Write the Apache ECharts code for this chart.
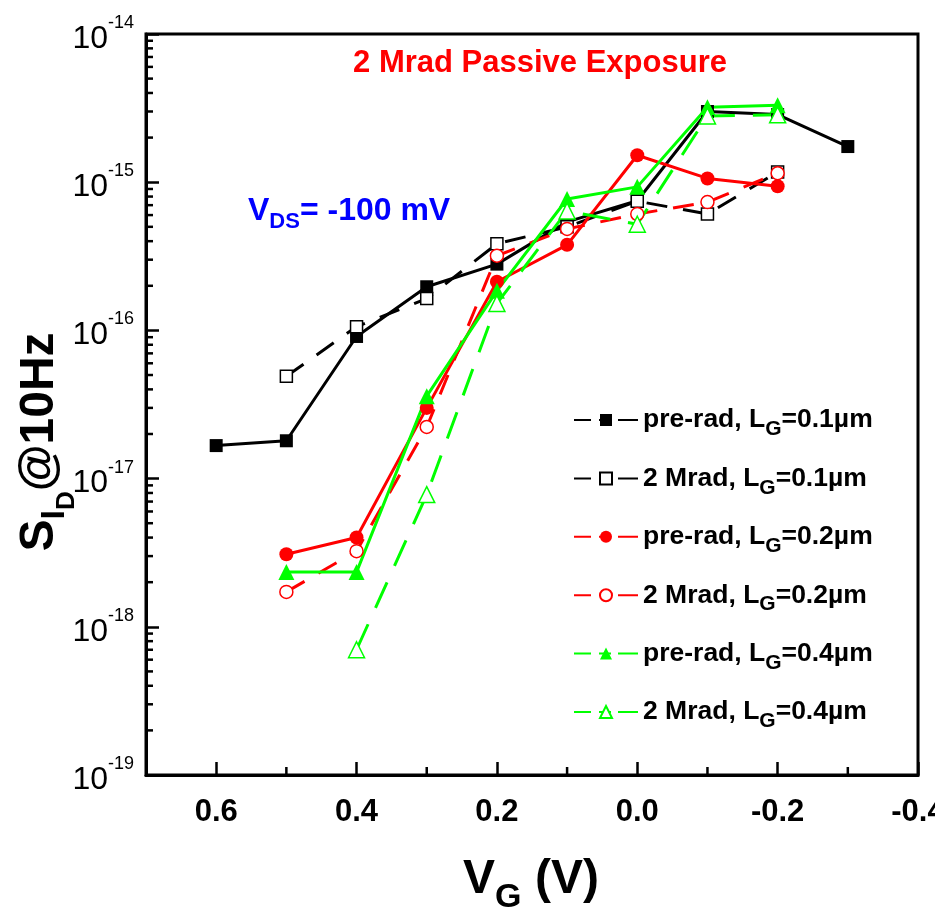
<!DOCTYPE html>
<html><head><meta charset="utf-8">
<script src="https://cdn.jsdelivr.net/npm/echarts@6/dist/echarts.min.js"></script>
<style>html,body{margin:0;padding:0;background:#fff}#c{width:935px;height:912px}</style>
</head><body><div id="c"></div>
<script>
// ---- data ----
const xPreRad01 = [0.6, 0.5, 0.4, 0.3, 0.2, 0.1, 0.0, -0.1, -0.2, -0.3];
const yPreRad01 = [1.67e-17, 1.8e-17, 9.1e-17, 1.97e-16, 2.8e-16, 5.4e-16, 7.5e-16, 3.0e-15, 2.86e-15, 1.74e-15];
const x2Mrad01 = [0.5, 0.4, 0.3, 0.2, 0.1, 0.0, -0.1, -0.2];
const y2Mrad01 = [4.9e-17, 1.06e-16, 1.64e-16, 3.84e-16, 5.0e-16, 7.45e-16, 6.1e-16, 1.17e-15];
const xPreRad02 = [0.5, 0.4, 0.3, 0.2, 0.1, 0.0, -0.1, -0.2];
const yPreRad02 = [3.09e-18, 4.0e-18, 3.0e-17, 2.13e-16, 3.78e-16, 1.52e-15, 1.06e-15, 9.4e-16];
const x2Mrad02 = [0.5, 0.4, 0.3, 0.2, 0.1, 0.0, -0.1, -0.2];
const y2Mrad02 = [1.72e-18, 3.24e-18, 2.23e-17, 3.19e-16, 4.84e-16, 6.1e-16, 7.34e-16, 1.15e-15];
const xPreRad04 = [0.5, 0.4, 0.3, 0.2, 0.1, 0.0, -0.1, -0.2];
const yPreRad04 = [2.34e-18, 2.34e-18, 3.6e-17, 1.85e-16, 7.7e-16, 9.3e-16, 3.2e-15, 3.3e-15];
const x2Mrad04 = [0.4, 0.3, 0.2, 0.1, 0.0, -0.1, -0.2];
const y2Mrad04 = [7.0e-19, 7.8e-18, 1.52e-16, 6.4e-16, 5.2e-16, 2.8e-15, 2.85e-15];

const seriesNames = [
  'pre-rad, L_G=0.1\u00b5m', '2 Mrad, L_G=0.1\u00b5m',
  'pre-rad, L_G=0.2\u00b5m', '2 Mrad, L_G=0.2\u00b5m',
  'pre-rad, L_G=0.4\u00b5m', '2 Mrad, L_G=0.4\u00b5m'
];
const xMinorTicks = [0.5, 0.3, 0.1, -0.1, -0.3];
const yMinorMantissas = [2, 3, 4, 5, 6, 7, 8, 9];
const yDecades = [-19, -18, -17, -16, -15];

const FONT = '"Liberation Sans", Arial, sans-serif';

function mk(name, xs, ys, color, symbol, filled, dash, size) {
  return {
    type: 'line', name: name,
    data: xs.map((x, i) => [x, ys[i]]),
    symbol: symbol, symbolSize: size, showSymbol: true,
    lineStyle: { color: color, width: 3, type: dash || 'solid' },
    itemStyle: filled ? { color: color, borderColor: color, borderWidth: 0 }
                      : { color: '#ffffff', borderColor: color, borderWidth: 1.5 },
    emphasis: { disabled: true },
    animation: false, z: 3
  };
}

const minorData = [];
yDecades.forEach(d => yMinorMantissas.forEach(m => minorData.push([0.7, m * Math.pow(10, d), 0])));
xMinorTicks.forEach(v => minorData.push([v, 1e-19, 1]));

const chart = echarts.init(document.getElementById('c'), null, { renderer: 'canvas' });
chart.setOption({
  backgroundColor: '#ffffff',
  animation: false,
  grid: { left: 146, right: 17, top: 34, bottom: 137, show: true, borderColor: '#000', borderWidth: 3,
          containLabel: false, outerBoundsMode: 'none' },
  xAxis: {
    type: 'value', min: -0.4, max: 0.7, interval: 0.2, inverse: true,
    axisLine: { onZero: false, lineStyle: { color: '#000', width: 3 } },
    axisTick: { inside: true, length: 13, lineStyle: { color: '#000', width: 2.5 } },
    splitLine: { show: false },
    axisLabel: {
      margin: 22, color: '#000', fontFamily: FONT, fontWeight: 'bold', fontSize: 31,
      formatter: v => (Math.abs(v - 0.7) < 1e-9 ? '' : (Math.abs(v) < 1e-9 ? '0.0' : v.toFixed(1)))
    }
  },
  yAxis: {
    type: 'log', logBase: 10, min: 1e-19, max: 1e-14,
    axisLine: { onZero: false, lineStyle: { color: '#000', width: 3 } },
    axisTick: { inside: true, length: 13, lineStyle: { color: '#000', width: 2.5 } },
    splitLine: { show: false },
    axisLabel: {
      margin: 12, color: '#000', padding: [10, 0, 0, 0],
      formatter: v => '{a|10}{b|' + Math.round(Math.log10(v)) + '}',
      rich: {
        a: { fontFamily: FONT, fontSize: 32, lineHeight: 50, color: '#000' },
        b: { fontFamily: FONT, fontSize: 18, lineHeight: 14, verticalAlign: 'top', color: '#000' }
      }
    }
  },
  legend: {
    data: seriesNames,
    orient: 'vertical', left: 573, top: 400, itemGap: 18.4, padding: 0,
    itemWidth: 64, itemHeight: 15,
    lineStyle: { type: [17, 8, 12, 7, 20, 100] },
    formatter: n => n.replace('L_G', 'L{g|G}'),
    textStyle: {
      fontFamily: FONT, fontWeight: 'bold', fontSize: 26.5, color: '#000', lineHeight: 40,
      rich: { g: { fontFamily: FONT, fontWeight: 'bold', fontSize: 21, lineHeight: 16, verticalAlign: 'bottom', color: '#000' } }
    },
    selectedMode: false
  },
  graphic: [
    { type: 'text', x: 540, y: 63, style: { text: '2 Mrad Passive Exposure', font: 'bold 31px ' + FONT, fill: '#ff0000', align: 'center', verticalAlign: 'middle', textAlign: 'center', textVerticalAlign: 'middle' } },
    { type: 'text', x: 248, y: 211, style: {
        text: '{v|V}{s|DS}{v|= -100 mV}', align: 'left', verticalAlign: 'middle', textAlign: 'left', textVerticalAlign: 'middle',
        rich: { v: { font: 'bold 32px ' + FONT, fill: '#0000ff', lineHeight: 44 }, s: { font: 'bold 22px ' + FONT, fill: '#0000ff', lineHeight: 18, verticalAlign: 'bottom' } } } },
    { type: 'text', x: 531, y: 880, style: {
        text: '{v|V}{s|G}{v| (V)}', align: 'center', verticalAlign: 'middle', textAlign: 'center', textVerticalAlign: 'middle',
        rich: { v: { font: 'bold 48px ' + FONT, fill: '#000', lineHeight: 70 }, s: { font: 'bold 34px ' + FONT, fill: '#000', lineHeight: 26, verticalAlign: 'bottom' } } } },
    { type: 'text', x: 40, y: 442, rotation: Math.PI / 2, style: {
        text: '{s|S}{i|I}{d|D}{s|@10Hz}', align: 'center', verticalAlign: 'middle', textAlign: 'center', textVerticalAlign: 'middle',
        rich: {
          s: { font: 'bold 48px ' + FONT, fill: '#000', lineHeight: 80 },
          i: { font: 'bold 34px ' + FONT, fill: '#000', lineHeight: 48, verticalAlign: 'bottom', padding: [0, 0, 8, 0] },
          d: { font: 'bold 26px ' + FONT, fill: '#000', lineHeight: 24, verticalAlign: 'bottom' }
        } } }
  ],
  series: [
    {
      type: 'custom', name: 'minorTicks', silent: true, z: 5,
      data: minorData, encode: { x: 0, y: 1 },
      renderItem: (params, api) => {
        const p = api.coord([api.value(0), api.value(1)]);
        const k = api.value(2);
        const shape = k === 0 ? { x1: p[0], y1: p[1], x2: p[0] + 7, y2: p[1] } : { x1: p[0], y1: p[1], x2: p[0], y2: p[1] - 8 };
        return { type: 'line', shape: shape, style: { stroke: '#000', lineWidth: 2.5 } };
      }
    },
    mk(seriesNames[0], xPreRad01, yPreRad01, '#000000', 'rect', true, null, 13),
    mk(seriesNames[1], x2Mrad01, y2Mrad01, '#000000', 'rect', false, [21, 16], 12),
    mk(seriesNames[2], xPreRad02, yPreRad02, '#ff0000', 'circle', true, null, 14),
    mk(seriesNames[3], x2Mrad02, y2Mrad02, '#ff0000', 'circle', false, [21, 16], 13),
    mk(seriesNames[4], xPreRad04, yPreRad04, '#00ff00', 'triangle', true, null, 16),
    mk(seriesNames[5], x2Mrad04, y2Mrad04, '#00ff00', 'triangle', false, [28, 18], 16)
  ]
});
</script>
</body></html>
